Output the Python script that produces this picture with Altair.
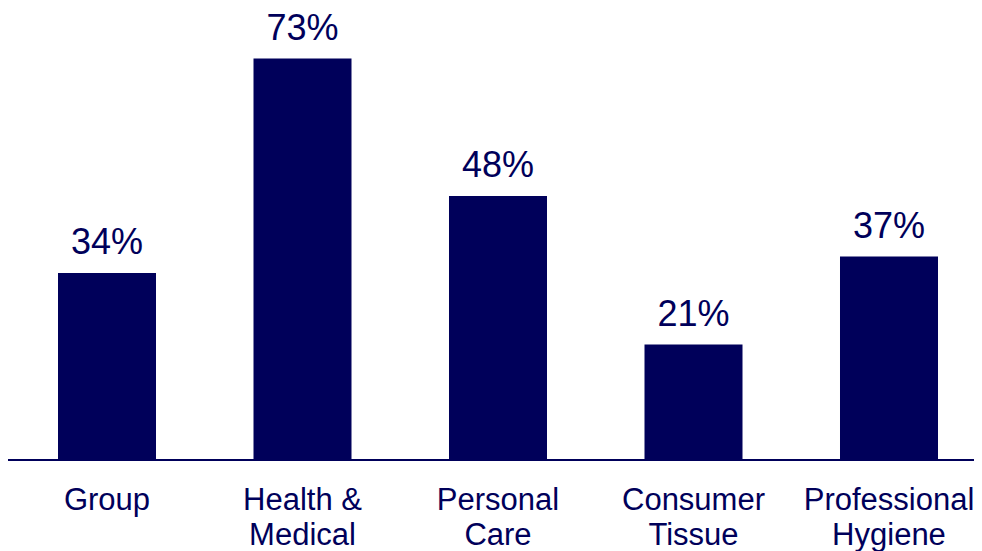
import altair as alt
import pandas as pd

categories = ["Group", "Health &|Medical", "Personal|Care", "Consumer|Tissue", "Professional|Hygiene"]
values = [34, 73, 48, 21, 37]
labels = ["34%", "73%", "48%", "21%", "37%"]

NAVY = "#00005a"
W, H = 966, 440

df = pd.DataFrame({"cat": categories, "val": values, "lab": labels})

xscale = alt.Scale(range=[50, 930], paddingInner=0.4987, paddingOuter=0)
x = alt.X("cat:N", sort=categories, scale=xscale,
          axis=alt.Axis(title=None, labelExpr="split(datum.label, '|')",
                        labelAngle=0, labelFontSize=31, labelFont="Liberation Sans",
                        labelColor=NAVY, labelLineHeight=35, labelPadding=25,
                        ticks=False, domain=False,
                        labelBaseline="top", labelLimit=0))
y = alt.Y("val:Q", scale=alt.Scale(domain=[0, 80]), axis=None)

bars = alt.Chart(df).mark_bar(color=NAVY).encode(x=x, y=y)
text = alt.Chart(df).mark_text(font="Liberation Sans", fontSize=36, color=NAVY,
                               baseline="alphabetic", dy=-19).encode(
    x=alt.X("cat:N", sort=categories, scale=xscale), y="val:Q", text="lab:N")
baseline = alt.Chart(df).mark_rule(color=NAVY, strokeWidth=2).encode(
    x=alt.value(0), x2=alt.value(W), y=alt.value(H))

chart = (bars + text + baseline).properties(
    width=W, height=H,
    autosize=alt.AutoSizeParams(type="none"),
    padding={"left": 0, "top": 12, "right": 0, "bottom": 91},
).configure_view(stroke=None)

chart.save("out.html", embed_options={"renderer": "svg", "actions": False})
